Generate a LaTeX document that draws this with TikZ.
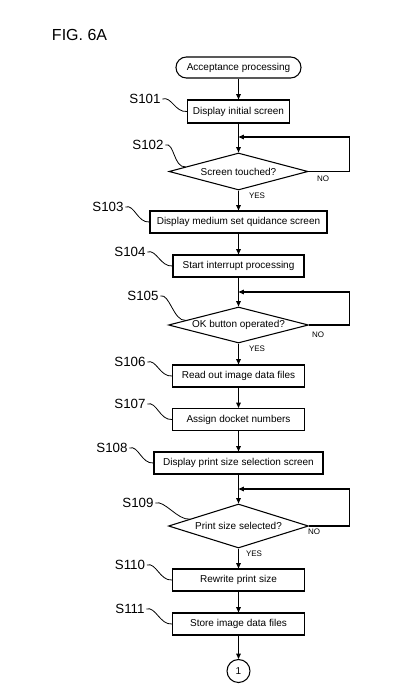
\documentclass[tikz,border=0pt]{standalone}
\usepackage{fontspec}
\setmainfont{Liberation Sans}
\usetikzlibrary{shapes.geometric,arrows.meta}
\newcommand{\boxtx}{\fontsize{7.5pt}{9pt}\selectfont}
\newcommand{\steptx}{\fontsize{10pt}{12pt}\selectfont}
\newcommand{\yntx}{\fontsize{6pt}{7pt}\selectfont}

\begin{document}
\begin{tikzpicture}[x=0.75pt,y=-0.75pt,line width=0.8pt,
   proc/.style={draw,rectangle,minimum height=16.5pt,inner sep=0pt,font=\boxtx},
   dec/.style={draw,diamond,aspect=3.8,inner sep=0pt,font=\boxtx},
   arr/.style={-{Triangle[length=4pt,width=3.4pt]}},
   tag/.style={font=\steptx,inner sep=1pt},
   yn/.style={font=\yntx,inner sep=0pt}]
   \useasboundingbox (0,0) rectangle (400,695);
   \node[anchor=west,font=\fontsize{12pt}{14pt}\selectfont] (fig) at (47,35) {FIG. 6A};
   % flow boxes
   \node[draw,rounded corners=7.8pt,minimum width=93.75pt,minimum height=15.75pt,inner sep=0pt,font=\boxtx] (start) at (238.5,67.5) {Acceptance processing};
   \node[proc,minimum width=76.5pt,minimum height=17.25pt] (b101) at (238.5,111.5) {Display initial screen};
   \node[dec,minimum width=104.25pt,minimum height=27.75pt] (d102) at (238.5,171.5) {Screen touched?};
   \node[proc,minimum width=132.75pt] (b103) at (238.5,222) {Display medium set quidance screen};
   \node[proc,minimum width=98.25pt] (b104) at (238.5,266) {Start interrupt processing};
   \node[dec,minimum width=105pt,minimum height=27pt] (d105) at (238.5,325) {OK button operated?};
   \node[proc,minimum width=99pt] (b106) at (238.5,376) {Read out image data files};
   \node[proc,minimum width=99pt] (b107) at (238.5,419.5) {Assign docket numbers};
   \node[proc,minimum width=126.75pt] (b108) at (238.5,463) {Display print size selection screen};
   \node[dec,minimum width=105pt,minimum height=33pt] (d109) at (238.5,526) {Print size selected?};
   \node[proc,minimum width=99pt] (b110) at (238.5,580) {Rewrite print size};
   \node[proc,minimum width=99pt] (b111) at (238.5,624) {Store image data files};
   \node[draw,circle,minimum size=17.25pt,inner sep=0pt,font=\boxtx] (c1) at (238.5,671) {1};
   % step tags
   \node[tag] (l101) at (145,99) {S101};
   \node[tag] (l102) at (148,145) {S102};
   \node[tag] (l103) at (108,207) {S103};
   \node[tag] (l104) at (130,252) {S104};
   \node[tag] (l105) at (143,296) {S105};
   \node[tag] (l106) at (130,362) {S106};
   \node[tag] (l107) at (130,404) {S107};
   \node[tag] (l108) at (112,448) {S108};
   \node[tag] (l109) at (138,503) {S109};
   \node[tag] (l110) at (130,565) {S110};
   \node[tag] (l111) at (130,609) {S111};
   \draw[line width=0.6pt] (l101.east) .. controls +(9,-3) and +(-12,1) .. (b101.west);
   \draw[line width=0.6pt] (l102.east) .. controls +(9,-3) and +(-12,1) .. (d102.175);
   \draw[line width=0.6pt] (l103.east) .. controls +(9,-3) and +(-12,1) .. (b103.west);
   \draw[line width=0.6pt] (l104.east) .. controls +(9,-3) and +(-12,1) .. (b104.west);
   \draw[line width=0.6pt] (l105.east) .. controls +(9,-3) and +(-12,1) .. (d105.175);
   \draw[line width=0.6pt] (l106.east) .. controls +(9,-3) and +(-12,1) .. (b106.west);
   \draw[line width=0.6pt] (l107.east) .. controls +(9,-3) and +(-12,1) .. (b107.west);
   \draw[line width=0.6pt] (l108.east) .. controls +(9,-3) and +(-12,1) .. (b108.west);
   \draw[line width=0.6pt] (l109.east) .. controls +(9,-3) and +(-12,1) .. (d109.172);
   \draw[line width=0.6pt] (l110.east) .. controls +(9,-3) and +(-12,1) .. (b110.west);
   \draw[line width=0.6pt] (l111.east) .. controls +(9,-3) and +(-12,1) .. (b111.west);
   % main flow
   \draw[arr] (start.south) -- (b101.north);
   \draw[arr] (b101.south) -- (d102.north);
   \draw[arr] (d102.south) -- (b103.north);
   \draw[arr] (b103.south) -- (b104.north);
   \draw[arr] (b104.south) -- (d105.north);
   \draw[arr] (d105.south) -- (b106.north);
   \draw[arr] (b106.south) -- (b107.north);
   \draw[arr] (b107.south) -- (b108.north);
   \draw[arr] (b108.south) -- (d109.north);
   \draw[arr] (d109.south) -- (b110.north);
   \draw[arr] (b110.south) -- (b111.north);
   \draw[arr] (b111.south) -- (c1.north);
   % NO loops
   \coordinate (j102) at (238.5,137);
   \coordinate (j105) at (238.5,292);
   \coordinate (j109) at (238.5,489);
   \draw[arr] (d102.east) -- ++(40.5,0) |- (j102);
   \draw[arr] (d105.east) -- ++(40,0) |- (j105);
   \draw[arr] (d109.east) -- ++(40,0) |- (j109);
   \node[yn] (no102) at (323,179) {NO};
   \node[yn] (yes102) at (257,196) {YES};
   \node[yn] (no105) at (318,335) {NO};
   \node[yn] (yes105) at (257,349) {YES};
   \node[yn] (no109) at (314,532) {NO};
   \node[yn] (yes109) at (254,554) {YES};
\end{tikzpicture}
\end{document}
